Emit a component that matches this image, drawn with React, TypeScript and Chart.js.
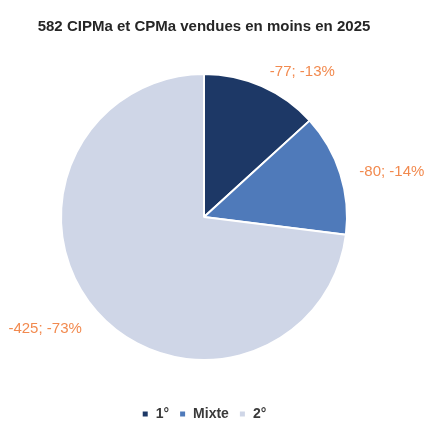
import React, { useEffect, useRef } from "react";
import { Chart, registerables } from "chart.js";

Chart.register(...registerables);

const categories = ["1°", "Mixte", "2°"];
const variations = [-77, -80, -425];
const colors = ["#1d3866", "#4f7aba", "#cfd6e7"];
const titleText = "582 CIPMa et CPMa vendues en moins en 2025";

const labelPlugin = {
  id: "outsideLabels",
  afterDatasetsDraw(chart: any) {
    const ctx = chart.ctx;
    const meta = chart.getDatasetMeta(0);
    const total = variations.reduce((s, v) => s + Math.abs(v), 0);
    ctx.save();
    ctx.font = "15px 'Liberation Sans', sans-serif";
    ctx.fillStyle = "#f28a4f";
    ctx.textBaseline = "middle";
    meta.data.forEach((arc: any, i: number) => {
      const p = arc.getProps(["x", "y", "startAngle", "endAngle", "outerRadius"], true);
      const mid = (p.startAngle + p.endAngle) / 2;
      const r = p.outerRadius + 20;
      const x = p.x + Math.cos(mid) * r;
      const y = p.y + Math.sin(mid) * r + 4;
      const pct = Math.round((Math.abs(variations[i]) / total) * 100);
      ctx.textAlign = Math.cos(mid) >= 0 ? "left" : "right";
      ctx.fillText(`${variations[i]}; -${pct}%`, x, y);
    });
    ctx.restore();
  },
};

export default function App() {
  const ref = useRef<HTMLCanvasElement | null>(null);
  useEffect(() => {
    document.body.style.margin = "0";
    if (!ref.current) return;
    const chart = new Chart(ref.current, {
      type: "pie",
      data: {
        labels: categories,
        datasets: [
          {
            data: variations.map((v) => Math.abs(v)),
            backgroundColor: colors,
            borderColor: "#ffffff",
            borderWidth: 2,
            radius: 143,
          } as any,
        ],
      },
      options: {
        animation: false,
        responsive: false,
        maintainAspectRatio: false,
        layout: { padding: { left: 0, right: 17, top: 0, bottom: -7 } },
        plugins: {
          title: {
            display: true,
            fullSize: false,
            text: titleText,
            color: "#262626",
            font: { family: "'Liberation Sans', sans-serif", size: 15, weight: "bold" },
            padding: { top: 18, bottom: 1 },
          },
          legend: {
            position: "bottom",
            fullSize: false,
            labels: {
              boxWidth: 7,
              boxHeight: 7,
              padding: 10,
              color: "#3a3a3a",
              font: { family: "'Liberation Sans', sans-serif", size: 14, weight: "bold" },
            },
          },
          tooltip: { enabled: false },
        },
      },
      plugins: [labelPlugin],
    });
    return () => chart.destroy();
  }, []);
  return (
    <div style={{ width: 425, height: 424 }}>
      <canvas ref={ref} width={425} height={424} style={{ display: "block" }} />
    </div>
  );
}
